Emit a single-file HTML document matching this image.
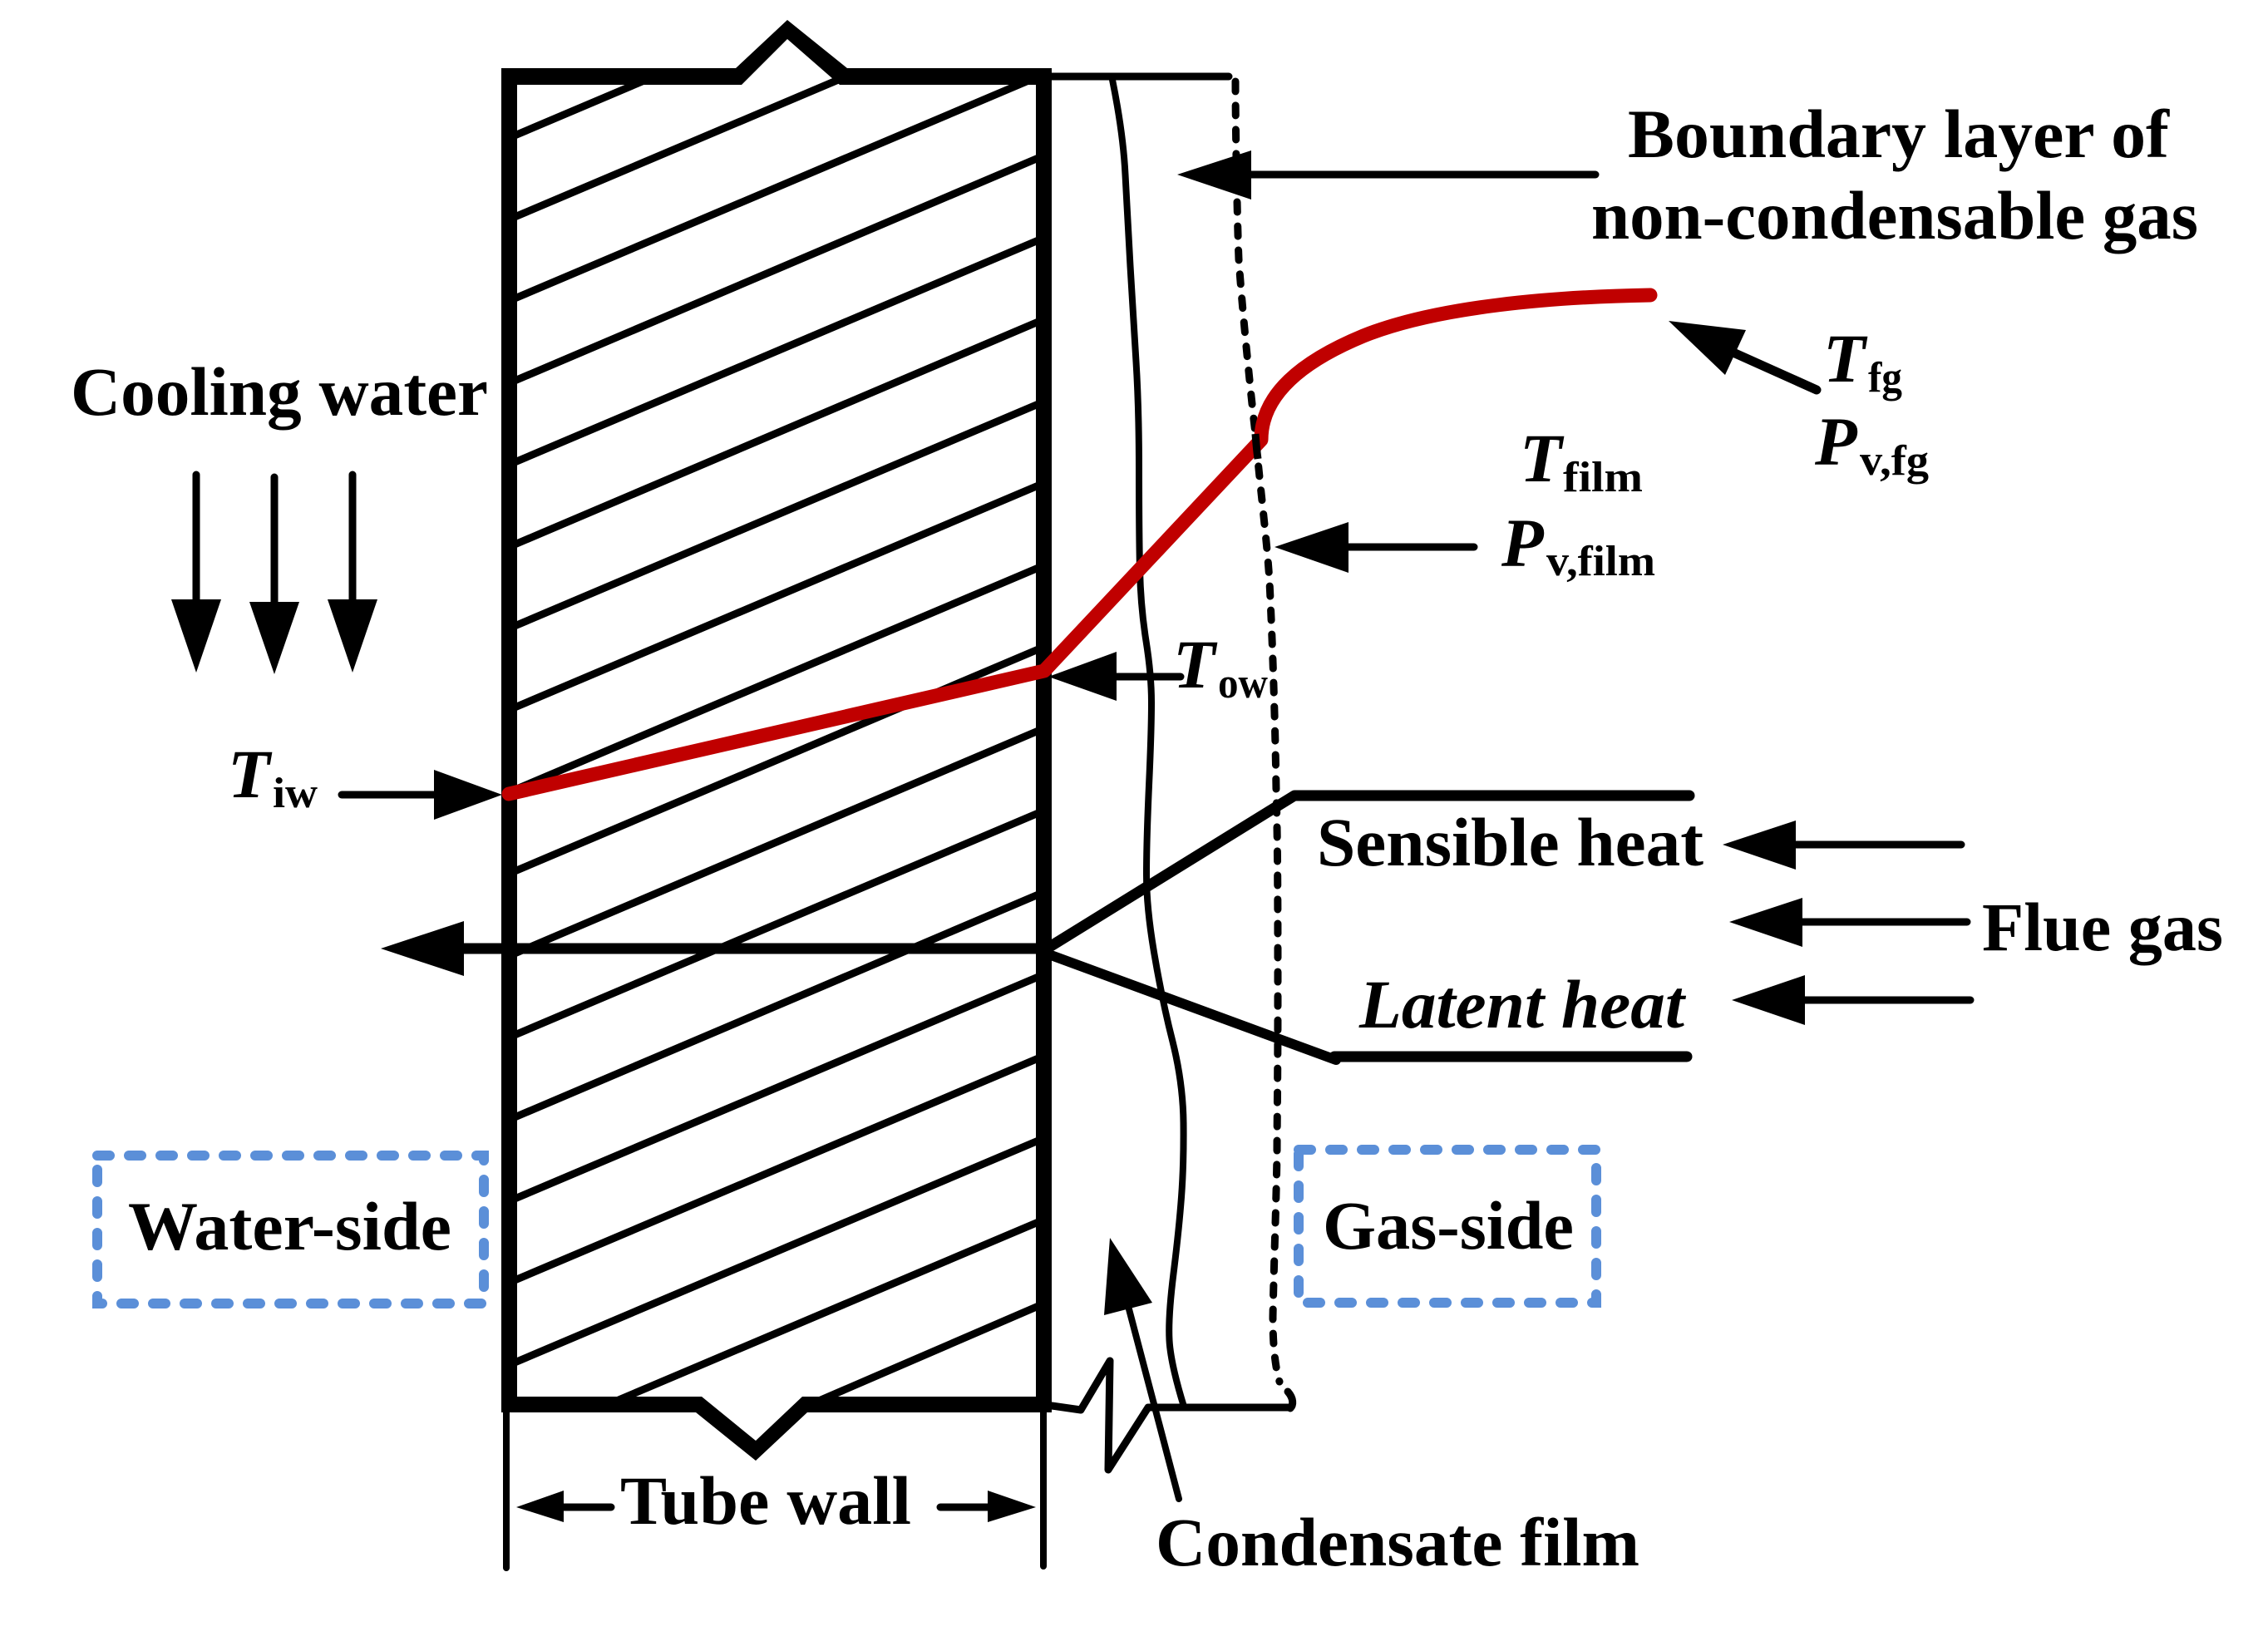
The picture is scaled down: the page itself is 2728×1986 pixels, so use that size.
<!DOCTYPE html>
<html><head><meta charset="utf-8"><style>
html,body{margin:0;padding:0;background:#fff}
svg{display:block}
text{font-family:"Liberation Serif",serif;font-weight:bold;fill:#000}
.i{font-style:italic}
</style></head><body>
<svg width="2728" height="1986" viewBox="0 0 2728 1986" xmlns="http://www.w3.org/2000/svg">
<rect width="2728" height="1986" fill="#fff"/>
<defs><clipPath id="c"><polygon points="612,92 885,92 947,36 1012,92 1256,92 1256,1690 612,1690"/></clipPath></defs>
<g clip-path="url(#c)" stroke="#000" stroke-width="9" fill="none">
<path d="M612,166 L1256,-107M612,264 L1256,-9M612,362 L1256,89M612,461 L1256,187M612,559 L1256,286M612,658 L1256,384M612,756 L1256,483M612,854 L1256,581M612,953 L1256,680M612,1051 L1256,778M612,1150 L1256,876M612,1248 L1256,975M612,1347 L1256,1073M612,1445 L1256,1172M612,1543 L1256,1270M612,1642 L1256,1369M612,1740 L1256,1467M612,1846 L1256,1568"/>
</g>
<!-- walls -->
<polygon fill="#000" points="603,82 885,82 947,24 1019,82 1265,82 1265,102 1010,102 947,47 892,102 603,102"/>
<polygon fill="#000" points="603,1680 844,1680 909,1733 965,1680 1265,1680 1265,1699 971,1699 909,1757 837,1699 603,1699"/>
<rect x="603" y="82" width="19" height="1617" fill="#000"/>
<rect x="1246" y="82" width="19" height="1617" fill="#000"/>
<g fill="none" stroke="#000" stroke-linecap="round" stroke-linejoin="round">
<path d="M609,1699V1886M1255,1699V1884" stroke-width="8"/>
<path d="M1265,92H1478" stroke-width="9"/>
<!-- film -->
<path d="M1338,96 Q1351,160 1353.5,210 Q1356,260 1359.5,320 Q1363,379 1366.5,435 Q1370,491 1370,565 Q1370,640 1371,685 Q1372,730 1378.5,771 Q1385,812 1385,845 Q1385,879 1382,945 Q1379,1012 1379,1052 Q1379,1093 1388.5,1148 Q1398,1204 1410.5,1253 Q1423,1303 1423.5,1351 Q1424,1400 1421,1440 Q1418,1480 1411.5,1532 Q1405,1584 1406.5,1612 Q1408,1640 1424,1692" stroke-width="8"/>
<!-- boundary dashed -->
<path d="M1486,98 C1486,150 1488,260 1490,312 C1494,370 1504,470 1510,522 C1516,590 1524,650 1527,700 C1531,780 1534,880 1535,950 C1537,1020 1537,1100 1537,1200 C1537,1300 1536,1350 1536,1387 C1535,1450 1532,1530 1531,1584 C1531,1620 1534,1645 1539,1662" stroke-width="9" stroke-dasharray="12 17"/>
<path d="M1549,1674 C1556,1682 1556,1690 1552,1694" stroke-width="9"/>
<!-- break zigzag -->
<path d="M1265,1691 L1300,1696 L1335,1637 L1333,1768 L1381,1693 H1552" stroke-width="9"/>
</g>
<!-- red -->
<path d="M612,955 L1256,807 L1517,529 C1517,475 1565,435 1640,404 C1730,368 1870,357 1985,355" fill="none" stroke="#c00000" stroke-width="17" stroke-linecap="round" stroke-linejoin="round"/>
<path d="M1510,522 C1511,535 1512,545 1513,552" fill="none" stroke="#000" stroke-width="9"/>
<!-- arrows -->
<g stroke="#000" stroke-width="9" stroke-linecap="round" fill="none">
<path d="M1500,210H1919"/>
<path d="M2087,425L2185,469" stroke-width="11"/>
<path d="M1615,658H1773"/>
<path d="M1340,814H1420"/>
<path d="M411,956H530"/>
<path d="M236,571V730M330,574V730M424,571V730"/>
<path d="M550,1141H1250" stroke-width="13"/>
<path d="M1256,1143L1557,957H2032" stroke-width="13" stroke-linejoin="round"/>
<path d="M1256,1146L1607,1275" stroke-width="12"/>
<path d="M1605,1271H2029" stroke-width="13"/>
<path d="M2155,1016H2359M2163,1109H2366M2166,1203H2370"/>
<path d="M670,1813H735M1131,1813H1195"/>
<path d="M1357,1571L1418,1803" stroke-width="8"/>
</g>
<g fill="#000">
<polygon points="1416,210 1505,181 1505,240"/>
<polygon points="2007,386 2100,397 2075,451"/>
<polygon points="1533,658 1622,628 1622,689"/>
<polygon points="1261,814 1343,784 1343,843"/>
<polygon points="604,956 522,926 522,986"/>
<polygon points="206,721 266,721 236,809"/>
<polygon points="300,724 360,724 330,811"/>
<polygon points="394,721 454,721 424,809"/>
<polygon points="458,1141 558,1108 558,1174"/>
<polygon points="2072,1016 2160,987 2160,1046"/>
<polygon points="2080,1109 2168,1080 2168,1139"/>
<polygon points="2083,1203 2171,1173 2171,1233"/>
<polygon points="621,1813 678,1793 678,1831"/>
<polygon points="1246,1813 1188,1793 1188,1831"/>
<polygon points="1335,1489 1328,1582 1386,1567"/>
</g>
<!-- blue boxes -->
<g fill="none" stroke="#5b8fd8" stroke-width="12" stroke-linecap="round" stroke-dasharray="15 23">
<rect x="117" y="1390" width="465" height="178"/>
<rect x="1562" y="1383" width="358" height="184"/>
</g>
<!-- text -->
<g font-size="83">
<text x="1958" y="189" textLength="651" lengthAdjust="spacingAndGlyphs">Boundary layer of</text>
<text x="1914" y="287" textLength="730" lengthAdjust="spacingAndGlyphs">non-condensable gas</text>
<text x="85" y="499" textLength="502" lengthAdjust="spacingAndGlyphs">Cooling water</text>
<text x="1584" y="1041" textLength="465" lengthAdjust="spacingAndGlyphs">Sensible heat</text>
<text class="i" x="1635" y="1236" textLength="391" lengthAdjust="spacingAndGlyphs">Latent heat</text>
<text x="2384" y="1143" textLength="290" lengthAdjust="spacingAndGlyphs">Flue gas</text>
<text x="154" y="1503" textLength="389" lengthAdjust="spacingAndGlyphs">Water-side</text>
<text x="1591" y="1502" textLength="302" lengthAdjust="spacingAndGlyphs">Gas-side</text>
<text x="746" y="1833" textLength="350" lengthAdjust="spacingAndGlyphs">Tube wall</text>
<text x="1390" y="1883" textLength="582" lengthAdjust="spacingAndGlyphs">Condensate film</text>
<text class="i" x="274" y="959">T</text>
<text class="i" x="1411" y="827">T</text>
<text class="i" x="2193" y="459">T</text>
<text class="i" x="2183" y="559">P</text>
<text class="i" x="1828" y="579">T</text>
<text class="i" x="1806" y="681">P</text>
</g>
<g font-size="52">
<text x="328" y="971" textLength="54" lengthAdjust="spacingAndGlyphs">iw</text>
<text x="1465" y="839" textLength="60" lengthAdjust="spacingAndGlyphs">ow</text>
<text x="2247" y="471" textLength="41" lengthAdjust="spacingAndGlyphs">fg</text>
<text x="2237" y="571" textLength="83" lengthAdjust="spacingAndGlyphs">v,fg</text>
<text x="1880" y="591" textLength="96" lengthAdjust="spacingAndGlyphs">film</text>
<text x="1860" y="692" textLength="131" lengthAdjust="spacingAndGlyphs">v,film</text>
</g>
</svg>
</body></html>
